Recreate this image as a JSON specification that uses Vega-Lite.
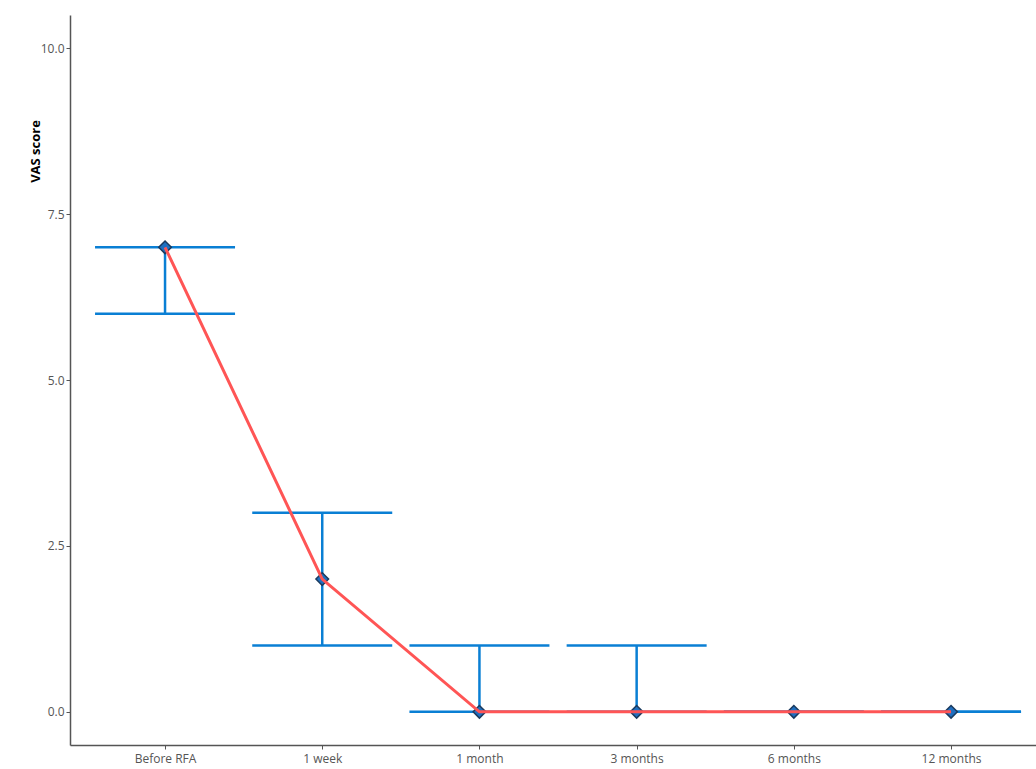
{
  "$schema": "https://vega.github.io/schema/vega-lite/v6.json",
  "autosize": "none",
  "padding": {"left": 70, "top": 15, "right": 0, "bottom": 24},
  "width": 966,
  "height": 730,
  "background": "white",
  "config": {
    "view": {"stroke": null},
    "font": "Open Sans",
    "axis": {
      "grid": false,
      "domainColor": "#555555",
      "domainWidth": 1.5,
      "tickColor": "#555555",
      "tickSize": 4,
      "labelColor": "#555555",
      "labelFontSize": 12,
      "labelFont": "Open Sans"
    }
  },
  "data": {
    "values": [
      {"time": "Before RFA", "median": 7, "lo": 6, "hi": 7},
      {"time": "1 week", "median": 2, "lo": 1, "hi": 3},
      {"time": "1 month", "median": 0, "lo": 0, "hi": 1},
      {"time": "3 months", "median": 0, "lo": 0, "hi": 1},
      {"time": "6 months", "median": 0, "lo": 0, "hi": 0},
      {"time": "12 months", "median": 0, "lo": 0, "hi": 0}
    ]
  },
  "encoding": {
    "x": {
      "field": "time",
      "type": "ordinal",
      "sort": null,
      "scale": {"type": "point", "padding": 0.5725, "align": 0.528},
      "axis": {"title": null, "labelAngle": 0, "labelPadding": 4}
    }
  },
  "layer": [
    {
      "mark": {"type": "rule", "color": "#0a7fd4", "strokeWidth": 2.5},
      "encoding": {
        "y": {
          "field": "lo",
          "type": "quantitative",
          "scale": {"domain": [-0.5, 10.5], "nice": false, "zero": false},
          "axis": {
            "values": [0, 2.5, 5, 7.5, 10],
            "format": ".1f",
            "title": "VAS score",
            "titleFontWeight": "bold",
            "titleFontSize": 13,
            "titleColor": "#000000",
            "titleFont": "Open Sans",
            "titleX": -35,
            "titleY": 136,
            "titleAngle": -90,
            "titleAlign": "center",
            "titleBaseline": "middle"
          }
        },
        "y2": {"field": "hi"}
      }
    },
    {
      "mark": {"type": "tick", "color": "#0a7fd4", "thickness": 2.5, "size": 140, "opacity": 1},
      "encoding": {"y": {"field": "lo", "type": "quantitative"}}
    },
    {
      "mark": {"type": "tick", "color": "#0a7fd4", "thickness": 2.5, "size": 140, "opacity": 1},
      "encoding": {"y": {"field": "hi", "type": "quantitative"}}
    },
    {
      "mark": {"type": "point", "shape": "diamond", "filled": true, "fill": "#1f6fc0", "stroke": "#1b3a5e", "strokeWidth": 1.5, "size": 160, "opacity": 1},
      "encoding": {"y": {"field": "median", "type": "quantitative"}}
    },
    {
      "mark": {"type": "line", "color": "#ff5555", "strokeWidth": 3},
      "encoding": {"y": {"field": "median", "type": "quantitative"}}
    }
  ]
}
